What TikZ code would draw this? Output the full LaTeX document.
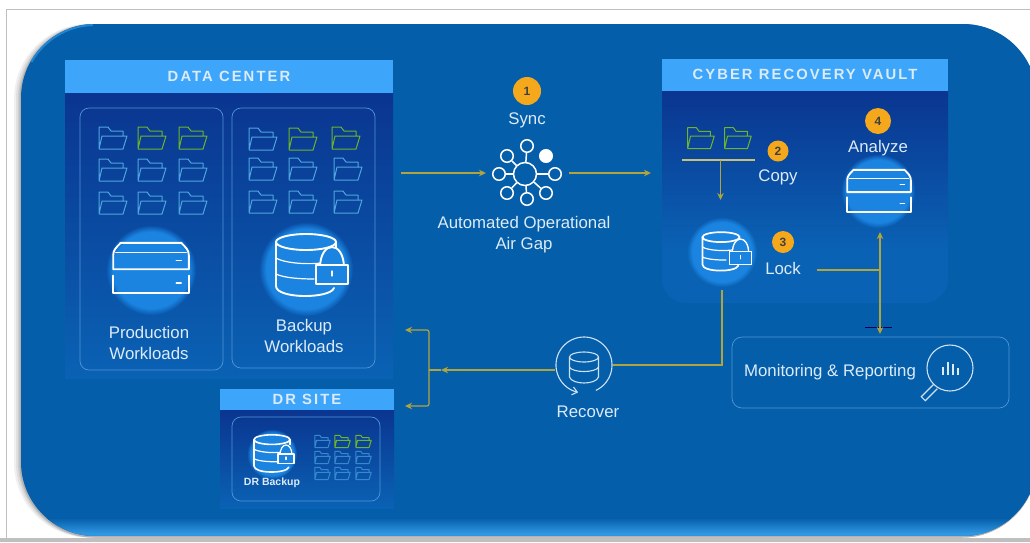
\documentclass[tikz,border=0pt]{standalone}
\usepackage{fontspec}
\setmainfont{Liberation Sans}
\newfontfamily\hdrfont[LetterSpace=14]{Liberation Sans}
\usetikzlibrary{arrows.meta,fadings,calc}
\definecolor{bgblue}{HTML}{055EA9}
\definecolor{rimblue}{HTML}{2F96E2}
\definecolor{hdrblue}{HTML}{3DA5FA}
\definecolor{deepblue}{HTML}{0A3590}
\definecolor{midblue}{HTML}{0A62B4}
\definecolor{glowblue}{HTML}{1A84E0}
\definecolor{olive}{HTML}{B0A43E}
\definecolor{amber}{HTML}{F5A81C}
\definecolor{foldblue}{HTML}{4FA6E0}
\definecolor{foldgreen}{HTML}{6FB52A}
\definecolor{boxline}{HTML}{4F96D6}
\definecolor{txt}{HTML}{DCEBF8}
\tikzset{
  x=1pt,y=-1pt,
  flow/.style={draw=olive,line width=1.2pt,-{Stealth[length=7pt,width=6.5pt]}},
  flowplain/.style={draw=olive,line width=1.2pt},
  hdr/.style={fill=hdrblue,inner sep=0pt,text=txt,font=\hdrfont\bfseries\fontsize{14.8}{16}\selectfont},
  lbl/.style={text=txt,font=\fontsize{16.8}{20}\selectfont,align=center,inner sep=0pt},
  badge/.style={circle,fill=amber,inner sep=0pt,text=black!75,font=\bfseries\fontsize{12}{12}\selectfont},
  card/.style={draw=boxline,line width=.7pt,rounded corners=9pt,fill=none},
  glow/.style={circle,fill=glowblue,inner sep=0pt,path fading=circle with fuzzy edge 15 percent},
  icon/.style={draw=white,line width=1.9pt,line join=round,line cap=round},
  thinicon/.style={draw=txt!90!boxline,line width=1.1pt},
  sat/.style={circle,draw=white,line width=1.5pt,inner sep=0pt,minimum size=12.5pt},
  folder/.pic={
    \draw[line width=1pt,line join=round,pic actions]
      (-13,10)--(-13,-12)--(-4,-12)--(-1,-8)--(11,-8)--(11,-3)
      (-13,10)--(11,10)--(15,-3)--(-10,-3)--(-13,10);
  },
  serverpic/.pic={
    \draw[icon] (-30,1)--(-30,-10) .. controls (-30,-14) and (-28,-16) .. (-24,-20)--(24,-20) .. controls (28,-16) and (30,-14) .. (30,-10)--(30,1)--cycle;
    \draw[icon,line width=1.1pt] (-28,-12)--(28,-12);
    \draw[icon] (-30,6)--(-30,20)--(30,20)--(30,6);
    \draw[icon,line width=1.3pt] (20,-6)--(24,-6) (20,12)--(24,12);
  },
  dbpic/.pic={
    \draw[icon] (0,-24) ellipse [x radius=30,y radius=8];
    \draw[icon] (-30,-24)--(-30,20) .. controls (-30,33) and (24,33) .. (28,22);
    \draw[icon] (30,-24)--(30,-16);
    \draw[icon,line width=1.2pt] (-30,-8) .. controls (-20,-2) and (8,-1) .. (22,-4);
    \draw[icon,line width=1.2pt] (-30,8) .. controls (-22,12) and (-5,13) .. (8,13);
  },
  lockpic/.pic={
    \draw[icon,fill=glowblue] (-12,-1) .. controls (-12,-29) and (12,-29) .. (12,-1)--cycle;
    \draw[icon,fill=glowblue] (-16,-4) rectangle (16,15);
    \draw[icon,line width=1.2pt] (0,2)--(0,7);
  },
}
\begin{document}
\begin{tikzpicture}
\useasboundingbox (0,0) rectangle (1030,542);
\fill[white] (0,0) rectangle (1030,542);
\draw[black!25,line width=.8pt] (6,542)--(6,9.5)--(1030,9.5);
\fill[black!25] (0,538) rectangle (1030,542);
% shadow + frame
\foreach \o/\c in {7/6,5/12,3/20,1.5/30}{
  \fill[black!\c,rounded corners=75pt] (21-\o,24) rectangle (1037,537.5);
}
\begin{scope}
  \clip[rounded corners=74pt] (21,24) rectangle (1037,536);
  \fill[bgblue] (21,24) rectangle (1037,536);
  \shade[top color=bgblue,bottom color=rimblue] (21,518) rectangle (1037,533);
  \fill[rimblue] (21,533) rectangle (1037,536);
  \draw[rimblue!70!bgblue,line width=2pt,line cap=round] plot[domain=-150:-92,samples=30] ({95+73*cos(\x)},{98+73*sin(\x)});
\end{scope}

% Data center
\shade[top color=deepblue,bottom color=midblue] (65,93) rectangle (393,378);
\node[hdr,minimum width=328pt,minimum height=33pt] (dc) at (229,76) {DATA CENTER};
\node[card,minimum width=143pt,minimum height=262pt] (prod) at (151.5,239) {};
\node[card,minimum width=143pt,minimum height=260pt] (back) at (303.5,238) {};
\foreach \y in {171,204}{\foreach \x in {112,151,192}{\pic[draw=foldblue] at (\x,\y) {folder};}}
\pic[draw=foldblue] at (112,139) {folder};
\pic[draw=foldgreen] at (151,139) {folder};
\pic[draw=foldgreen] at (192,139) {folder};
\foreach \y in {170,203}{\foreach \x in {262,302,347}{\pic[draw=foldblue] at (\x,\y) {folder};}}
\pic[draw=foldblue] at (262,140) {folder};
\pic[draw=foldgreen] at (302,140) {folder};
\pic[draw=foldgreen] at (345,139) {folder};
\node[glow,minimum size=90pt] (prodglow) at (151,270) {};
\pic[scale=1.26] at (151,268) {serverpic};
\node[lbl] (prodl) at (149,343) {Production\\[1pt]Workloads};
\node[glow,minimum size=94pt] (backglow) at (306,269) {};
\pic at (306,266) {dbpic};
\pic at (332,269) {lockpic};
\node[lbl] (backl) at (304,336) {Backup\\[1pt]Workloads};

% DR site
\shade[top color=deepblue,bottom color=midblue] (220,410) rectangle (394,508);
\node[hdr,minimum width=174pt,minimum height=21pt] (dr) at (307,399) {DR SITE};
\node[card,minimum width=148pt,minimum height=84pt] (drbox) at (306,459) {};
\node[glow,minimum size=50pt] (drglow) at (272,454) {};
\pic[scale=.6,icon/.append style={line width=1.6pt}] at (272,454) {dbpic};
\pic[scale=.5,icon/.append style={line width=1.2pt}] at (286,456) {lockpic};
\node[lbl,font=\bfseries\fontsize{10.5}{12}\selectfont] (drl) at (272,483) {DR Backup};
\foreach \y in {458,474}{\foreach \x in {322,342,363}{\pic[scale=.55,draw=foldblue!60!midblue] at (\x,\y) {folder};}}
\pic[scale=.55,draw=foldblue!60!midblue] at (322,442) {folder};
\pic[scale=.55,draw=foldgreen] at (342,442) {folder};
\pic[scale=.55,draw=foldgreen] at (363,442) {folder};

% Sync
\node[badge,minimum size=28pt] (b1) at (527,91) {1};
\node[lbl] (sync) at (527,120) {Sync};
\node[circle,draw=white,line width=1.5pt,minimum width=23pt,inner sep=0pt] (hub) at (525,174) {};
\node[sat] (s1) at (527,146) {};
\node[sat] (s2) at (507,156) {};
\node[sat] (s3) at (499,174) {};
\node[sat] (s4) at (507,193) {};
\node[sat] (s5) at (527,199) {};
\node[sat] (s6) at (546,193) {};
\node[sat] (s7) at (555,174) {};
\node[sat,fill=white] (s8) at (546,156) {};
\foreach \n in {s1,s2,s3,s4,s5,s6,s7}{\draw[white,line width=1.5pt] (hub)--(\n);}
\node[lbl] (gap) at (524,235) {Automated Operational\\[1pt]Air Gap};

% Vault
\fill[midblue,rounded corners=24pt] (662,80) rectangle (948,303);
\shade[top color=deepblue,bottom color=midblue] (662,90) rectangle (948,250);
\node[hdr,minimum width=286pt,minimum height=32pt] (vault) at (805,74.5) {CYBER RECOVERY VAULT};
\pic[scale=.95,draw=foldgreen] at (700,139) {folder};
\pic[scale=.95,draw=foldgreen] at (737,139) {folder};
\coordinate (copyl) at (682,160);
\coordinate (copyr) at (755,160);
\coordinate (copym) at (720.5,160);
\coordinate (copyend) at (720.5,200);
\draw[draw=olive!70!white,line width=1.1pt] (copyl)--(copyr);
\node[badge,minimum size=21pt] (b2) at (778,151) {2};
\node[lbl] (copyt) at (778,177) {Copy};
\node[glow,minimum size=70pt] (lockglow) at (722,252) {};
\pic[scale=.62,icon/.append style={line width=1.7pt}] at (721,252) {dbpic};
\pic[scale=.68,icon/.append style={line width=1.4pt}] at (740.5,254) {lockpic};
\draw[flow] (copym)--(copyend);
\node[badge,minimum size=22pt] (b3) at (783,242) {3};
\node[lbl] (lockt) at (783,268) {Lock};
\node[badge,minimum size=26pt] (b4) at (878,121) {4};
\node[lbl] (analyze) at (878,148) {Analyze};
\node[glow,minimum size=74pt] (anglow) at (878,191) {};
\pic[scale=1.06] at (879,191) {serverpic};

% Monitoring
\node[card,rounded corners=10pt,minimum width=277pt,minimum height=71pt] (mon) at (870.5,372.5) {};
\node[lbl] (mont) at (830,372) {Monitoring \& Reporting};
\node[circle,thinicon,minimum size=46pt,inner sep=0pt] (lens) at (950,368) {};
\draw[thinicon] (lens.225)--++(-12,12)--++(4,4)--++(12,-12);
\draw[txt,line width=1.1pt] (943,375)--(943,367) (948,375)--(948,362) (953,375)--(953,364) (958,375)--(958,368);

% Connectors
\coordinate (lockout) at (817,270);
\coordinate (vjoin) at (880,270);
\coordinate (vtop) at (880,232);
\coordinate (vbot) at (880,334);
\draw[draw=black!65!blue,line width=.9pt] (865,327.5)--(892,327.5);
\draw[flowplain] (lockout)--(vjoin);
\draw[flow,{Stealth[length=7pt,width=6.5pt]}-{Stealth[length=7pt,width=6.5pt]}] (vtop)--(vbot);
\coordinate (dcin) at (401,173);
\coordinate (dcout) at (486,173);
\coordinate (hubout) at (569,173);
\coordinate (vaultin) at (651,173);
\draw[flow] (dcin)--(dcout);
\draw[flow] (hubout)--(vaultin);

\node[circle,minimum size=57pt,inner sep=0pt] (rec) at (584,365) {};
\draw[thinicon,-{Straight Barb[length=5pt,width=8pt]}] plot[domain=65:-258,samples=70] ({584+28*cos(\x)},{365+28*sin(\x)});
\draw[thinicon] (584,357) ellipse [x radius=14.5,y radius=5];
\draw[thinicon] (569.5,357)--(569.5,377) .. controls (572,385) and (596,385) .. (598.5,377)--(598.5,357)
   (569.5,367) .. controls (572,373) and (596,373) .. (598.5,367);
\node[lbl] (rect) at (588,412) {Recover};
\coordinate (lockdown) at (722,290);
\draw[flowplain] (lockdown)|-(rec.east);
\coordinate (brk) at (429,370);
\coordinate (brkt) at (429,330);
\coordinate (brkb) at (429,406);
\coordinate (dcback) at (405,330);
\coordinate (drback) at (405,406);
\coordinate (recin) at (441,370);
\draw[flowplain] (recin)--(brk);
\draw[flow] (rec.west |- recin)--(recin);
\draw[flow,rounded corners=2pt] (brk)--(brkt)--(dcback);
\draw[flow,rounded corners=2pt] (brk)--(brkb)--(drback);
\end{tikzpicture}
\end{document}
